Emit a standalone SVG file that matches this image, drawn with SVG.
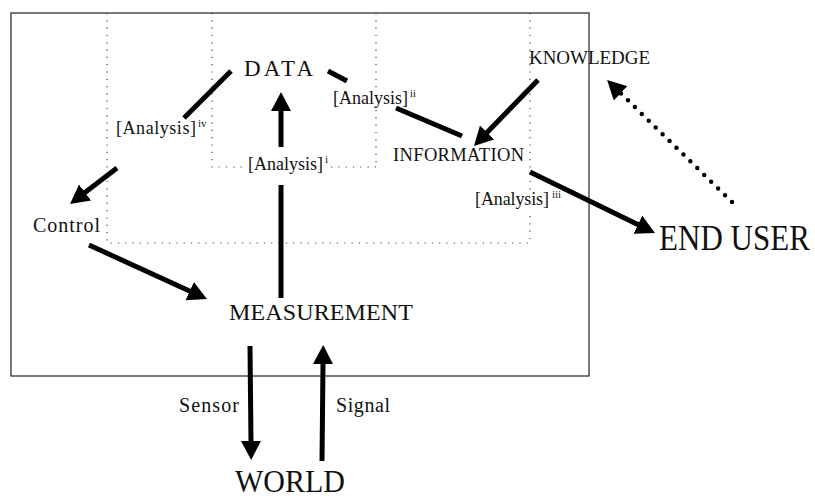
<svg xmlns="http://www.w3.org/2000/svg" width="815" height="500" viewBox="0 0 815 500">
  <style>
    .lbl { font-family: "Liberation Serif", "Times New Roman", serif; fill: #111; }
    .sup { font-family: "Liberation Serif", "Times New Roman", serif; fill: #111; font-size: 11px; }
    .guide { fill: none; stroke: #444; stroke-width: 1.2; stroke-dasharray: 1.2 6.1; }
    .arrow { fill: none; stroke: #000; stroke-width: 5; }
    .frame { fill: none; stroke: #333; stroke-width: 1.3; }
  </style>
  <defs>
    <marker id="head" markerUnits="userSpaceOnUse" markerWidth="22" markerHeight="22" refX="1" refY="10" orient="auto">
      <path d="M0,0 L19,10 L0,20 z" fill="#000"/>
    </marker>
  </defs>

  <rect fill="#fff" x="0" y="0" width="815" height="500"/>

  <!-- system boundary -->
  <rect class="frame" x="11" y="13" width="578" height="363"/>

  <!-- dotted region guides -->
  <g id="guides">
    <path class="guide" d="M107,13 V243 H530"/>
    <path class="guide" d="M530,13 V190 M530,216 V243"/>
    <path class="guide" d="M212,13 V167 H244 M331,167 H376"/>
    <path class="guide" d="M376,13 V88 M376,110 V167"/>
  </g>

  <!-- connectors -->
  <g id="connectors">
    <!-- MEASUREMENT to DATA, broken by the [Analysis]i label -->
    <path class="arrow" d="M281,298 V185"/>
    <path class="arrow" d="M281,147 V110" marker-end="url(#head)"/>
    <!-- DATA to [Analysis]iv -->
    <path class="arrow" d="M231,71 L184,118"/>
    <!-- [Analysis]iv to Control -->
    <path class="arrow" d="M117,168 L84.3,193.1" marker-end="url(#head)"/>
    <!-- Control to MEASUREMENT -->
    <path class="arrow" d="M89,245 L190.6,291.5" marker-end="url(#head)"/>
    <!-- DATA to [Analysis]ii -->
    <path class="arrow" d="M328,71 L347,81"/>
    <!-- [Analysis]ii to INFORMATION -->
    <path class="arrow" d="M396,108 L462,136"/>
    <!-- KNOWLEDGE to INFORMATION -->
    <path class="arrow" d="M538,80 L486.5,133.1" marker-end="url(#head)"/>
    <!-- INFORMATION to END USER -->
    <path class="arrow" d="M530,172 L638.8,225.1" marker-end="url(#head)"/>
    <!-- END USER back to KNOWLEDGE (dotted) -->
    <path d="M732,202 L620,92.6" fill="none" stroke="#000" stroke-width="4.5" stroke-linecap="round" stroke-dasharray="0 9.7" marker-end="url(#head)"/>
    <!-- Sensor: MEASUREMENT to WORLD -->
    <path class="arrow" d="M250,346 L251,442" marker-end="url(#head)"/>
    <!-- Signal: WORLD to MEASUREMENT -->
    <path class="arrow" d="M322,461 L323,363" marker-end="url(#head)"/>
  </g>

  <!-- nodes -->
  <g id="data">
    <text class="lbl" x="244" y="76" font-size="23" textLength="69" lengthAdjust="spacing">DATA</text>
  </g>
  <g id="knowledge">
    <text class="lbl" x="529" y="64" font-size="19" textLength="121" lengthAdjust="spacing">KNOWLEDGE</text>
  </g>
  <g id="information">
    <text class="lbl" x="393" y="161" font-size="18.5" textLength="131" lengthAdjust="spacing">INFORMATION</text>
  </g>
  <g id="control">
    <text class="lbl" x="33" y="232" font-size="20" textLength="67" lengthAdjust="spacing">Control</text>
  </g>
  <g id="measurement">
    <text class="lbl" x="229" y="320" font-size="24" textLength="184" lengthAdjust="spacing">MEASUREMENT</text>
  </g>
  <g id="end-user">
    <text class="lbl" x="659" y="250" font-size="31" textLength="151" lengthAdjust="spacing" transform="translate(0,250) scale(1,1.15) translate(0,-250)">END USER</text>
  </g>
  <g id="world">
    <text class="lbl" x="235" y="492" font-size="30" textLength="110" lengthAdjust="spacing" transform="translate(0,492) scale(1,1.08) translate(0,-492)">WORLD</text>
  </g>

  <!-- analysis stage labels -->
  <g id="analysis-i">
    <text class="lbl" x="248" y="170" font-size="18" textLength="75" lengthAdjust="spacing">[Analysis]</text>
    <text class="sup" x="325" y="163">i</text>
  </g>
  <g id="analysis-ii">
    <text class="lbl" x="333" y="104" font-size="18" textLength="75" lengthAdjust="spacing">[Analysis]</text>
    <text class="sup" x="410" y="97">ii</text>
  </g>
  <g id="analysis-iii">
    <text class="lbl" x="475" y="205" font-size="18" textLength="74" lengthAdjust="spacing">[Analysis]</text>
    <text class="sup" x="552" y="198">iii</text>
  </g>
  <g id="analysis-iv">
    <text class="lbl" x="116" y="134" font-size="18" textLength="80" lengthAdjust="spacing">[Analysis]</text>
    <text class="sup" x="198" y="127">iv</text>
  </g>

  <!-- link labels -->
  <g id="sensor-label">
    <text class="lbl" x="179" y="412" font-size="20" textLength="60" lengthAdjust="spacing">Sensor</text>
  </g>
  <g id="signal-label">
    <text class="lbl" x="336" y="412" font-size="20" textLength="54" lengthAdjust="spacing">Signal</text>
  </g>
</svg>
